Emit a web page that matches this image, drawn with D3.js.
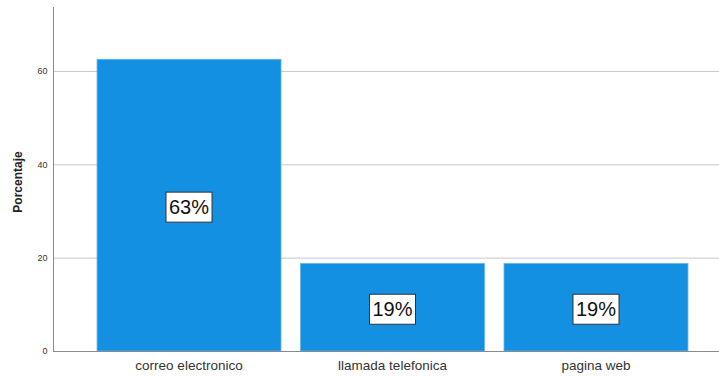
<!DOCTYPE html>
<html>
<head>
<meta charset="utf-8">
<script src="https://cdn.jsdelivr.net/npm/d3@7"></script>
<style>
  html, body { margin: 0; padding: 0; background: #fff; }
  svg { display: block; font-family: Arial, "Liberation Sans", sans-serif; }
</style>
</head>
<body>
<svg id="chart" width="719" height="377"></svg>
<script>
// Contact channel shares (percent)
const categories = ["correo electronico", "llamada telefonica", "pagina web"];
const percentages = [62.5, 18.75, 18.75];
const valueLabels = ["63%", "19%", "19%"];
const yTicks = [0, 20, 40, 60];
const yTitle = "Porcentaje";

const svg = d3.select("#chart");
const plot = { left: 53, right: 719, top: 7, bottom: 351 };

const y = d3.scaleLinear().domain([0, 73.7]).range([plot.bottom, plot.top]);
const x = d3.scaleBand()
  .domain(categories)
  .range([77.5, 707.5])
  .paddingInner(0.096)
  .paddingOuter(0.096);

// Horizontal grid lines
svg.append("g")
  .selectAll("line")
  .data(yTicks.filter(d => d > 0))
  .join("line")
  .attr("x1", plot.left).attr("x2", plot.right)
  .attr("y1", d => y(d) + 0.5).attr("y2", d => y(d) + 0.5)
  .attr("stroke", "#c8c8c8").attr("stroke-width", 1);

// Bars
svg.append("g")
  .selectAll("rect")
  .data(categories)
  .join("rect")
  .attr("x", d => x(d))
  .attr("y", (d, i) => y(percentages[i]))
  .attr("width", x.bandwidth())
  .attr("height", (d, i) => y(0) - y(percentages[i]))
  .attr("fill", "#1490e3")
  .attr("stroke", "#5fb3ee").attr("stroke-width", 0.8);

// Y axis
const yAxis = d3.axisLeft(y).tickValues(yTicks).tickSize(0).tickPadding(6).tickFormat(d3.format("d"));
const gy = svg.append("g").attr("transform", `translate(${plot.left + 0.5},0)`).call(yAxis);
gy.select(".domain").attr("stroke", "#8a8a8a").attr("d", `M0,${plot.top}V${plot.bottom}`);
gy.selectAll("text").attr("font-size", 9).attr("fill", "#333").attr("font-family", "Arial, 'Liberation Sans', sans-serif");

// X axis baseline and labels
const xAxis = d3.axisBottom(x).tickSize(0).tickPadding(9);
const gx = svg.append("g").attr("transform", `translate(0,${plot.bottom + 0.5})`).call(xAxis);
gx.select(".domain").attr("stroke", "#8a8a8a").attr("d", `M${plot.left},0H${plot.right}`);
gx.selectAll("text").attr("font-size", 13.5).attr("fill", "#333").attr("font-family", "Arial, 'Liberation Sans', sans-serif");

// Y axis title
svg.append("text")
  .attr("transform", `translate(22,${(plot.top + plot.bottom) / 2 + 3}) rotate(-90)`)
  .attr("text-anchor", "middle")
  .attr("font-size", 12).attr("font-weight", "bold").attr("fill", "#222")
  .text(yTitle);

// Value labels in boxes at bar centres
const lbl = svg.append("g")
  .selectAll("g")
  .data(categories)
  .join("g")
  .attr("transform", (d, i) => `translate(${x(d) + x.bandwidth() / 2},${(y(percentages[i]) + y(0)) / 2 + 2})`);

lbl.append("rect")
  .attr("x", -23).attr("y", -15).attr("width", 46).attr("height", 30)
  .attr("fill", "#fff").attr("stroke", "#333").attr("stroke-width", 1);

lbl.append("text")
  .attr("text-anchor", "middle").attr("dy", "0.36em")
  .attr("font-size", 20).attr("fill", "#111")
  .text((d, i) => valueLabels[i]);
</script>
</body>
</html>
